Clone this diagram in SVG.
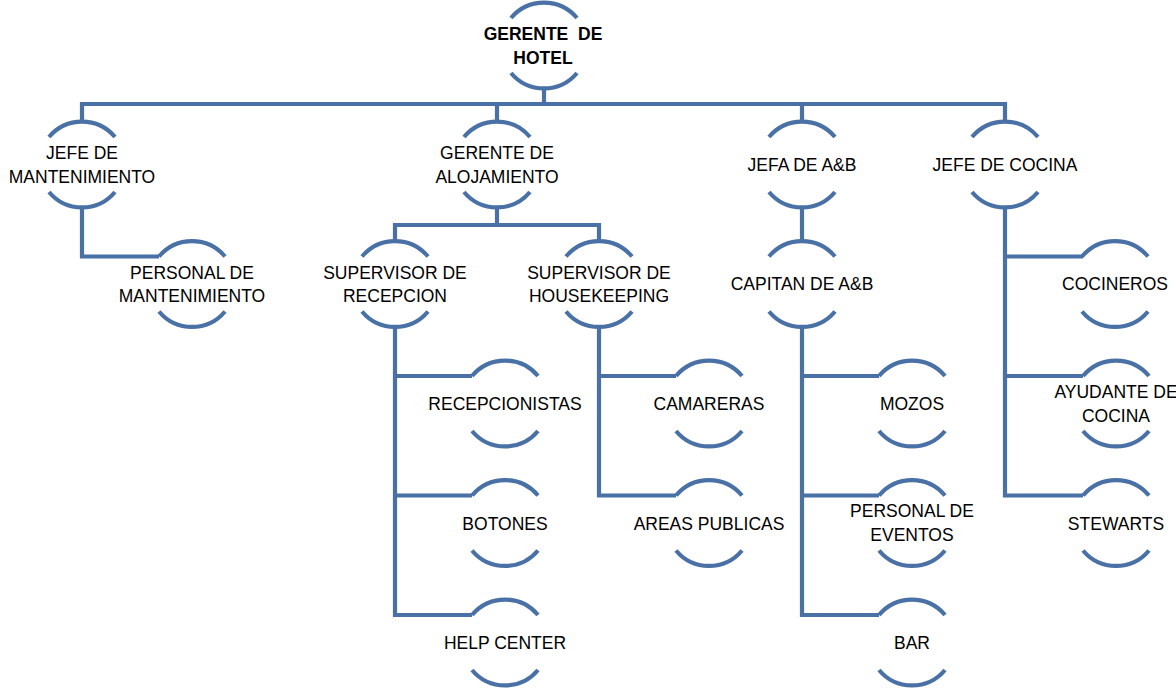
<svg xmlns="http://www.w3.org/2000/svg" width="1176" height="689" viewBox="0 0 1176 689">
<style>
.arc{fill:none;stroke:#4a71a6;stroke-width:4.2}
.con{fill:none;stroke:#4a71a6;stroke-width:4.2;stroke-linejoin:miter;stroke-linecap:butt}
text{font-family:"Liberation Sans",Arial,sans-serif;font-size:17.5px;fill:#000;text-anchor:middle}
.b{font-weight:bold}
</style>
<defs>
<g id="ring">
<path class="arc" d="M-33 -27.5 A43 43 0 0 1 33 -27.5"/>
<path class="arc" d="M-33 27.5 A43 43 0 0 0 33 27.5"/>
</g>
</defs>
<g id="connectors">
<path class="con" d="M544 88.5V104"/>
<path class="con" d="M82 123V104H1005V123"/>
<path class="con" d="M497 104V123M802 104V123"/>
<path class="con" d="M82 206V256.5H159"/>
<path class="con" d="M497 206V225"/>
<path class="con" d="M395 242.5V225H599V242.5"/>
<path class="con" d="M395 326V615H472M395 376H472M395 495.5H472"/>
<path class="con" d="M599 326V495.5H676M599 376H676"/>
<path class="con" d="M802 206V242.5"/>
<path class="con" d="M802 326V615H879M802 376H879M802 495.5H879"/>
<path class="con" d="M1005 206V495.5H1083M1005 256.5H1083M1005 376H1083"/>
</g>
<g id="n-gerente-hotel"><use href="#ring" x="544" y="45.5"/><text class="b" x="543" y="40" xml:space="preserve">GERENTE  DE</text><text class="b" x="543" y="64">HOTEL</text></g>
<g id="n-jefe-mant"><use href="#ring" x="82" y="164.5"/><text x="82" y="159">JEFE DE</text><text x="82" y="183">MANTENIMIENTO</text></g>
<g id="n-gerente-aloj"><use href="#ring" x="497" y="164.5"/><text x="497" y="159">GERENTE DE</text><text x="497" y="183">ALOJAMIENTO</text></g>
<g id="n-jefa-ab"><use href="#ring" x="802" y="164.5"/><text x="802" y="171">JEFA DE A&amp;B</text></g>
<g id="n-jefe-cocina"><use href="#ring" x="1005" y="164.5"/><text x="1005" y="171">JEFE DE COCINA</text></g>
<g id="n-personal-mant"><use href="#ring" x="192" y="284"/><text x="192" y="278.5">PERSONAL DE</text><text x="192" y="302">MANTENIMIENTO</text></g>
<g id="n-sup-recepcion"><use href="#ring" x="395" y="284"/><text x="395" y="278.5">SUPERVISOR DE</text><text x="395" y="302">RECEPCION</text></g>
<g id="n-sup-housekeeping"><use href="#ring" x="599" y="284"/><text x="599" y="278.5">SUPERVISOR DE</text><text x="599" y="302">HOUSEKEEPING</text></g>
<g id="n-capitan-ab"><use href="#ring" x="802" y="284"/><text x="802" y="290">CAPITAN DE A&amp;B</text></g>
<g id="n-cocineros"><use href="#ring" x="1115" y="284"/><text x="1115" y="290">COCINEROS</text></g>
<g id="n-recepcionistas"><use href="#ring" x="505" y="403.5"/><text x="505" y="410">RECEPCIONISTAS</text></g>
<g id="n-botones"><use href="#ring" x="505" y="523"/><text x="505" y="529.5">BOTONES</text></g>
<g id="n-help-center"><use href="#ring" x="505" y="642.5"/><text x="505" y="649">HELP CENTER</text></g>
<g id="n-camareras"><use href="#ring" x="709" y="403.5"/><text x="709" y="410">CAMARERAS</text></g>
<g id="n-areas-publicas"><use href="#ring" x="709" y="523"/><text x="709" y="529.5">AREAS PUBLICAS</text></g>
<g id="n-mozos"><use href="#ring" x="912" y="403.5"/><text x="912" y="410">MOZOS</text></g>
<g id="n-personal-eventos"><use href="#ring" x="912" y="523"/><text x="912" y="516.5">PERSONAL DE</text><text x="912" y="540.5">EVENTOS</text></g>
<g id="n-bar"><use href="#ring" x="912" y="642.5"/><text x="912" y="649">BAR</text></g>
<g id="n-ayudante"><use href="#ring" x="1116" y="403.5"/><text x="1116" y="397.5">AYUDANTE DE</text><text x="1116" y="421.5">COCINA</text></g>
<g id="n-stewarts"><use href="#ring" x="1116" y="523"/><text x="1116" y="529.5">STEWARTS</text></g>
</svg>
